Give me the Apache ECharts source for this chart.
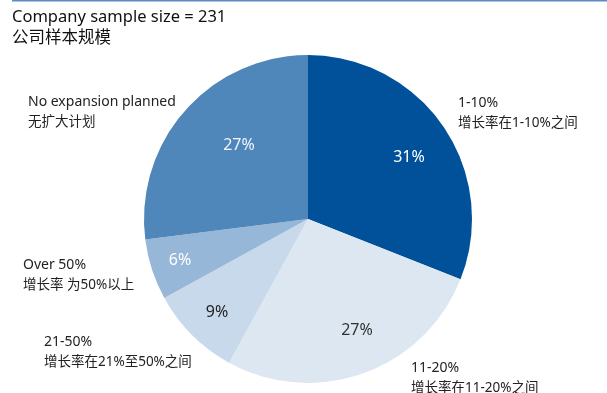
<!DOCTYPE html>
<html>
<head>
<meta charset="utf-8">
<script src="https://cdn.jsdelivr.net/npm/echarts@6/dist/echarts.min.js"></script>
<style>
  html, body { margin: 0; padding: 0; background: #fff; }
  #chart { width: 607px; height: 393px; }
</style>
</head>
<body>
<div id="chart"></div>
<script>
// Growth expectation categories (English / Chinese) and their shares in percent
const categoriesEn = ['1-10%', '11-20%', '21-50%', 'Over 50%', 'No expansion planned'];
const categoriesZh = ['增长率在1-10%之间', '增长率在11-20%之间', '增长率在21%至50%之间', '增长率 为50%以上', '无扩大计划'];
const shares = [31, 27, 9, 6, 27];

const titleEn = 'Company sample size = 231';
const titleZh = '公司样本规模';

const sliceColors = ['#01519a', '#dce7f1', '#c7d9ea', '#97b7d8', '#5087bb'];
const innerLabelColors = ['#ffffff', '#333333', '#222222', '#ffffff', '#f0f4f8'];
// inner percentage label anchors and outer category label anchors (px, first-line centre)
const innerPos = [[409, 157], [357, 330], [217, 312], [180, 260], [239, 145]];
const outerPos = [[458, 106], [411, 371], [44, 345], [23, 268], [28, 105]];

const FONT = '"Noto Sans", "Noto Sans CJK SC", sans-serif';

const chart = echarts.init(document.getElementById('chart'));

const outerLabels = categoriesEn.map((name, i) => ({
  type: 'text',
  left: outerPos[i][0],
  top: outerPos[i][1] - 10,
  style: {
    text: '{en|' + name + '}\n{zh|' + categoriesZh[i] + '}',
    rich: {
      en: { fontSize: 14, fill: '#222', fontFamily: FONT, lineHeight: 20 },
      zh: { fontSize: 13.5, fill: '#222', fontFamily: FONT, lineHeight: 20 }
    }
  }
}));

chart.setOption({
  animation: false,
  graphic: [
    { type: 'line', shape: { x1: 12, y1: 0.5, x2: 607, y2: 0.5 }, style: { stroke: '#5b8dc5', lineWidth: 2 } },
    {
      type: 'text', left: 12, top: 9,
      style: {
        text: '{en|' + titleEn + '}\n{zh|' + titleZh + '}',
        rich: {
          en: { fontSize: 16.5, fill: '#111', fontFamily: FONT, lineHeight: 21 },
          zh: { fontSize: 16.5, fill: '#111', fontFamily: FONT, lineHeight: 21 }
        }
      }
    },
    ...outerLabels
  ],
  series: [{
    type: 'pie',
    center: [308, 219],
    radius: [0, 164],
    startAngle: 90,
    clockwise: true,
    silent: true,
    label: {
      show: true,
      position: 'inside',
      formatter: p => p.value + '%',
      fontSize: 16,
      fontFamily: FONT
    },
    labelLine: { show: false },
    labelLayout: p => ({
      x: innerPos[p.dataIndex][0],
      y: innerPos[p.dataIndex][1],
      align: 'center',
      verticalAlign: 'middle'
    }),
    data: shares.map((v, i) => ({
      name: categoriesEn[i],
      value: v,
      itemStyle: { color: sliceColors[i] },
      label: { color: innerLabelColors[i] }
    }))
  }]
});
</script>
</body>
</html>
